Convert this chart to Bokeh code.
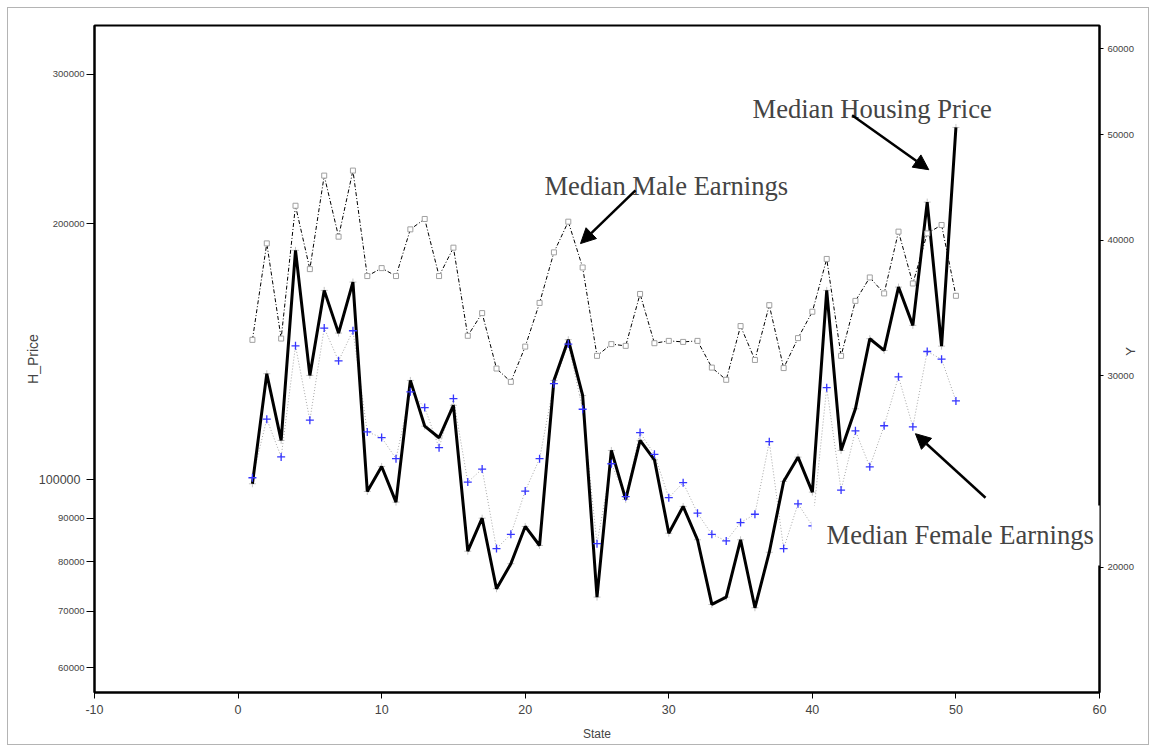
from math import pi
from bokeh.plotting import figure
from bokeh.models import (Range1d, LogScale, LogAxis, FixedTicker, NumeralTickFormatter,
                          Label, Arrow, NormalHead)
from bokeh.embed import file_html
from bokeh.resources import INLINE

# ---------------- data ----------------
state = list(range(1, 51))

h_price = [98840, 133190, 111160, 186060, 132580, 166930, 148680, 170730, 96800, 103590,
           94040, 130790, 115540, 111970, 122260, 82330, 90040, 74370, 79590, 88040,
           83620, 130790, 146040, 125560, 72700, 108180, 94730, 111160, 105480, 86450,
           92950, 84920, 71270, 72700, 84920, 70630, 82100, 99460, 106230, 96620,
           166930, 108180, 121130, 146430, 141860, 168430, 151830, 212060, 143530, 259600]

male_earn = [32380, 39730, 32470, 43030, 37620, 45870, 40300, 46360, 37070, 37700,
             37070, 40930, 41840, 37070, 39370, 32660, 34270, 30470, 29620, 31920,
             35020, 38980, 41600, 37750, 31300, 32090, 31970, 35690, 32150, 32310,
             32240, 32310, 30530, 29750, 33340, 31030, 34850, 30500, 32500, 34370,
             38440, 31300, 35170, 36960, 35730, 40730, 36490, 40580, 41310, 35550]

female_earn = [24170, 27370, 25260, 31970, 27310, 33200, 30970, 33010, 26640, 26320,
               25170, 29000, 28050, 25760, 28590, 23950, 24620, 20800, 21440, 23500,
               25170, 29510, 32090, 27950, 21020, 24900, 23220, 26600, 25400, 23170,
               23920, 22420, 21440, 21140, 21980, 22370, 26090, 20800, 22870, 21830,
               29260, 23550, 26700, 24740, 26990, 29940, 26930, 31590, 31080, 28450]

x_ticks = [-10, 0, 10, 20, 30, 40, 50, 60]
left_ticks = [60000, 70000, 80000, 90000, 200000, 300000]
left_decade_tick = [100000]
right_ticks = [20000, 30000, 40000, 50000, 60000]
right_title_at = [31300]

SANS = "Liberation Sans"
SERIF = "Liberation Serif"

p = figure(width=1142, height=738, output_backend="svg", toolbar_location=None,
           x_range=Range1d(-10, 60), y_range=Range1d(56140, 342200), y_axis_type="log",
           min_border_left=86, min_border_right=51, min_border_top=17, min_border_bottom=54,
           background_fill_color="white", border_fill_color="white")
p.styles = {"margin-left": "7px", "margin-top": "7px", "border": "1px solid #b4b4b4"}
p.outline_line_color = "black"
p.outline_line_width = 2
p.xgrid.visible = False
p.ygrid.visible = False

p.extra_y_ranges = {"y2": Range1d(15330, 63060)}
p.extra_y_scales = {"y2": LogScale()}

# x axis
xa = p.xaxis[0]
xa.ticker = FixedTicker(ticks=x_ticks)
xa.major_label_overrides = {t: str(t) for t in x_ticks}
xa.axis_label = "State"
xa.axis_label_text_font = SANS
xa.axis_label_text_font_size = "12px"
xa.axis_label_text_font_style = "normal"
xa.axis_label_standoff = 10
xa.major_label_text_font = SANS
xa.major_label_text_font_size = "12.5px"
xa.major_label_standoff = 6
xa.major_tick_out = 6
xa.major_tick_in = 0
xa.minor_tick_line_color = None
xa.axis_line_width = 2
xa.major_tick_line_width = 1

# left axis (small labels)
ya = p.yaxis[0]
ya.ticker = FixedTicker(ticks=left_ticks + left_decade_tick)
ya.formatter = NumeralTickFormatter(format="0")
ya.major_label_overrides = {100000: ""}
ya.major_label_text_font = SANS
ya.major_label_text_font_size = "9.5px"
ya.major_label_standoff = 2
ya.major_tick_out = 8
ya.major_tick_in = 0
ya.minor_tick_line_color = None
ya.axis_line_width = 2

# outer left axis: carries the larger decade label and the axis title
ya2 = LogAxis(ticker=FixedTicker(ticks=left_decade_tick), formatter=NumeralTickFormatter(format="0"))
ya2.axis_line_color = None
ya2.major_tick_line_color = None
ya2.minor_tick_line_color = None
ya2.major_tick_out = 0
ya2.major_tick_in = 0
ya2.major_label_text_font = SANS
ya2.major_label_text_font_size = "12.5px"
ya2.major_label_standoff = -31
ya2.axis_label = "H_Price"
ya2.axis_label_text_font = SANS
ya2.axis_label_text_font_size = "14px"
ya2.axis_label_text_font_style = "normal"
ya2.axis_label_standoff = -5
p.add_layout(ya2, "left")

# right axis
ra = LogAxis(y_range_name="y2", ticker=FixedTicker(ticks=right_ticks),
             formatter=NumeralTickFormatter(format="0"))
ra.major_label_text_font = SANS
ra.major_label_text_font_size = "9.5px"
ra.major_label_standoff = 4
ra.major_tick_out = 4
ra.major_tick_in = 0
ra.minor_tick_line_color = None
ra.axis_line_width = 2
p.add_layout(ra, "right")

# outer right axis: carries the rotated "Y" title
ra2 = LogAxis(y_range_name="y2", ticker=FixedTicker(ticks=right_title_at),
              major_label_overrides={right_title_at[0]: "Y"})
ra2.axis_line_color = None
ra2.major_tick_line_color = None
ra2.minor_tick_line_color = None
ra2.major_tick_out = 0
ra2.major_tick_in = 0
ra2.major_label_orientation = pi / 2
ra2.major_label_text_font = SANS
ra2.major_label_text_font_size = "13px"
ra2.major_label_standoff = -6
p.add_layout(ra2, "right")

# ---------------- series ----------------
p.scatter(state, h_price, marker="cross", size=7, line_color="#c4c4c4", line_width=1)
p.line(state, female_earn, y_range_name="y2", line_color="#a8a8a8", line_width=1,
       line_dash="1 2")
p.line(state, h_price, line_color="black", line_width=3)
p.scatter(state, female_earn, y_range_name="y2", marker="cross", size=8,
          line_color="#3535ff", line_width=1.3)
p.line(state, male_earn, y_range_name="y2", line_color="black", line_width=1,
       line_dash="4 2 1 2")
p.scatter(state, male_earn, y_range_name="y2", marker="square", size=5,
          line_color="#a0a0a0", fill_color="white", line_width=1)

# ---------------- annotations ----------------
p.add_layout(Label(x=35.83, y=273200, text="Median Housing Price", text_font=SERIF,
                   text_font_size="26.6px", text_baseline="alphabetic"))
p.add_layout(Label(x=21.34, y=221300, text="Median Male Earnings", text_font=SERIF,
                   text_font_size="26.6px", text_baseline="alphabetic"))
p.add_layout(Label(x=39.94, y=85930, text="Median Female Earnings", text_font=SERIF,
                   text_font_size="26.6px", text_baseline="middle",
                   background_fill_color="white", padding=15, level="overlay"))

def arrow(x0, y0, x1, y1):
    p.add_layout(Arrow(end=NormalHead(size=15, fill_color="black", line_color="black"),
                       x_start=x0, y_start=y0, x_end=x1, y_end=y1,
                       line_color="black", line_width=2.5))

arrow(42.77, 268300, 48.11, 231500)
arrow(27.68, 218900, 23.85, 189500)
arrow(52.06, 95160, 47.18, 113200)

open("out.html", "w").write(file_html(p, INLINE))
